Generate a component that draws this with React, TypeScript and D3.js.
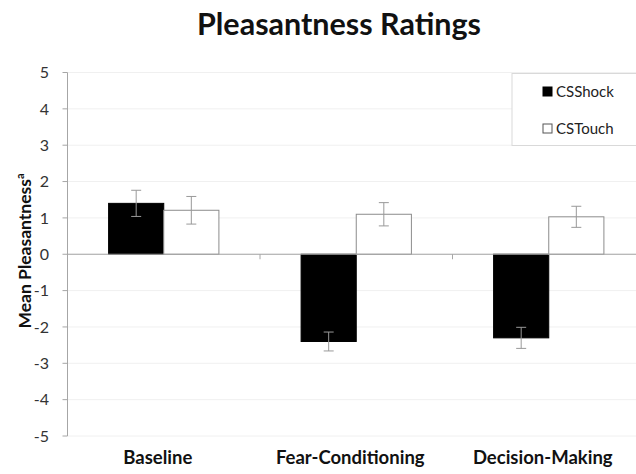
import React from "react";
import * as d3 from "d3";

// data
const categories = ["Baseline", "Fear-Conditioning", "Decision-Making"];
const seriesNames = ["CSShock", "CSTouch"];
const csShock = [1.4, -2.4, -2.3];
const csShockErr = [0.36, 0.26, 0.29];
const csTouch = [1.21, 1.1, 1.03];
const csTouchErr = [0.38, 0.32, 0.29];
const yTicks = [5, 4, 3, 2, 1, 0, -1, -2, -3, -4, -5];

const W = 636;
const H = 474;
const FONT = "Lato, 'Open Sans', sans-serif";

export default function App() {
  const axisX = 67.5;
  const x0 = d3.scaleBand<string>().domain(categories).range([axisX, 645]);
  const groupW = x0.bandwidth() * 0.573;
  const x1 = d3.scaleBand<string>().domain(seriesNames).range([0, groupW]);
  const y = d3.scaleLinear().domain([-5, 5]).range([436, 72.5]);

  const rows = categories.map((c, i) => ({
    cat: c,
    bars: [
      { name: "CSShock", v: csShock[i], e: csShockErr[i], fill: "#000", stroke: "#000" },
      { name: "CSTouch", v: csTouch[i], e: csTouchErr[i], fill: "#fff", stroke: "#8c8c8c" },
    ],
  }));

  return (
    <svg
      width={W}
      height={H}
      style={{ position: "absolute", left: 0, top: 0, background: "#fff" }}
      fontFamily={FONT}
    >
      <text x={339} y={35} textAnchor="middle" fontSize={30.5} fontWeight={700} fill="#111">
        Pleasantness Ratings
      </text>

      {/* gridlines */}
      {yTicks.map((t) => (
        <line key={"g" + t} x1={axisX} x2={W} y1={y(t)} y2={y(t)} stroke="#f0f0f0" strokeWidth={1} />
      ))}

      {/* y axis */}
      <line x1={axisX} x2={axisX} y1={y(5)} y2={y(-5)} stroke="#a6a6a6" />
      {yTicks.map((t) => (
        <g key={"t" + t}>
          <line x1={axisX - 5} x2={axisX} y1={y(t)} y2={y(t)} stroke="#a6a6a6" />
          <text x={49} y={y(t)} dy="0.36em" textAnchor="end" fontSize={16} fill="#333">
            {t}
          </text>
        </g>
      ))}

      {/* bars */}
      {rows.map((r) =>
        r.bars.map((b) => {
          const bx = (x0(r.cat) ?? 0) + (x0.bandwidth() - groupW) / 2 + (x1(b.name) ?? 0);
          const bw = x1.bandwidth();
          const top = y(Math.max(0, b.v));
          const bot = y(Math.min(0, b.v));
          const cx = bx + bw / 2;
          return (
            <g key={r.cat + b.name}>
              <rect x={bx} y={top} width={bw} height={bot - top} fill={b.fill} stroke={b.stroke} strokeWidth={1} />
              <line x1={cx} x2={cx} y1={y(b.v + b.e)} y2={y(b.v - b.e)} stroke="#999" />
              <line x1={cx - 5} x2={cx + 5} y1={y(b.v + b.e)} y2={y(b.v + b.e)} stroke="#999" />
              <line x1={cx - 5} x2={cx + 5} y1={y(b.v - b.e)} y2={y(b.v - b.e)} stroke="#999" />
            </g>
          );
        })
      )}

      {/* zero line + category ticks */}
      <line x1={axisX} x2={W} y1={y(0)} y2={y(0)} stroke="#a6a6a6" />
      {categories.slice(1).map((c) => (
        <line key={"ct" + c} x1={x0(c)} x2={x0(c)} y1={y(0)} y2={y(0) + 5} stroke="#a6a6a6" />
      ))}

      {/* category labels */}
      {categories.map((c) => (
        <text
          key={"l" + c}
          x={(x0(c) ?? 0) + x0.bandwidth() / 2 - 6}
          y={464}
          textAnchor="middle"
          fontSize={18.5}
          fontWeight={700}
          fill="#111"
        >
          {c}
        </text>
      ))}

      {/* y title */}
      <text
        transform={`translate(31,251) rotate(-90)`}
        textAnchor="middle"
        fontSize={17.5}
        fontWeight={700}
        fill="#111"
      >
        Mean Pleasantness
        <tspan fontSize={11} dy={-7}>a</tspan>
      </text>

      {/* legend */}
      <rect x={512} y={73.5} width={140} height={72} fill="#fff" stroke="#d9d9d9" />
      {seriesNames.map((s, i) => (
        <g key={"lg" + s} transform={`translate(543,${87 + i * 37})`}>
          <rect x={0} y={0} width={9} height={9} fill={i === 0 ? "#000" : "#fff"} stroke={i === 0 ? "#000" : "#555"} />
          <text x={13} y={10} fontSize={15} fill="#222">
            {s}
          </text>
        </g>
      ))}
    </svg>
  );
}
